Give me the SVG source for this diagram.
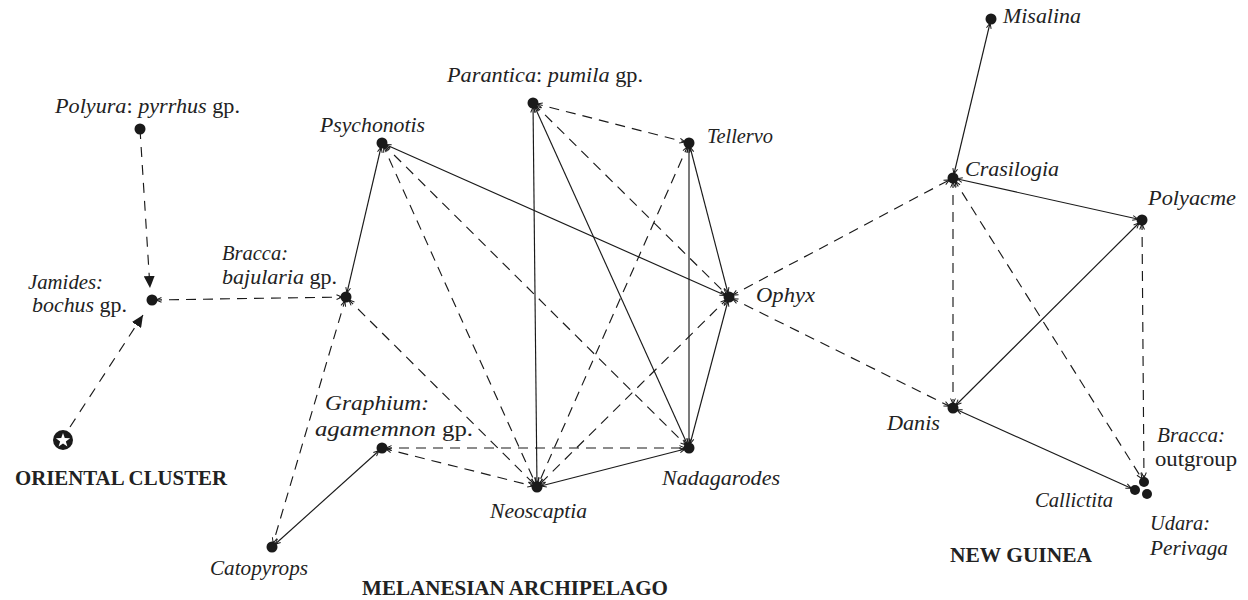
<svg xmlns="http://www.w3.org/2000/svg" width="1248" height="600" viewBox="0 0 1248 600">
  <style>
    .bg { fill: #ffffff; }
    .solid { stroke: #1a1a1a; stroke-width: 1.15; fill: none; marker-start: url(#chev); marker-end: url(#chev); }
    .dash { stroke: #1a1a1a; stroke-width: 1.15; fill: none; stroke-dasharray: 10 7; marker-start: url(#chev); marker-end: url(#chev); }
    .dash-arrow { stroke: #1a1a1a; stroke-width: 1.15; fill: none; stroke-dasharray: 10 8; marker-end: url(#tri); }
    .dot { fill: #1a1a1a; }
    .lbl { font-family: "Liberation Serif", "Times New Roman", serif; font-size: 20px; fill: #222222; }
    .i { font-style: italic; }
    .region { font-family: "Liberation Serif", "Times New Roman", serif; font-size: 21px; font-weight: bold; fill: #222222; }
  </style>
  <defs>
    <!-- small open chevron that points into a node dot -->
    <marker id="chev" viewBox="0 0 20 10" markerWidth="20" markerHeight="10" refX="18" refY="5" orient="auto-start-reverse" markerUnits="userSpaceOnUse">
      <path d="M8.5,2.6 L14,5 L8.5,7.4" fill="none" stroke="#1a1a1a" stroke-width="1"/>
    </marker>
    <!-- filled arrowhead for the Oriental links -->
    <marker id="tri" viewBox="0 0 12 11" markerWidth="12" markerHeight="11" refX="12" refY="5.5" orient="auto" markerUnits="userSpaceOnUse">
      <path d="M0,0 L12,5.5 L0,11 z" fill="#1a1a1a"/>
    </marker>
  </defs>

  <rect class="bg" x="0" y="0" width="1248" height="600"/>

  <g id="connectors">
    <!-- Oriental cluster -->
    <line class="dash-arrow" x1="140" y1="129" x2="150" y2="288"/>
    <line class="dash-arrow" x1="70" y1="427" x2="143" y2="315"/>
    <line class="dash" x1="152" y1="300" x2="346" y2="297"/>

    <!-- Melanesian archipelago -->
    <line class="solid" x1="346" y1="297" x2="382" y2="143"/>
    <line class="dash" x1="346" y1="297" x2="272" y2="547"/>
    <line class="dash" x1="346" y1="297" x2="537" y2="487"/>
    <line class="solid" x1="382" y1="448" x2="272" y2="547"/>
    <line class="dash" x1="382" y1="448" x2="537" y2="487"/>
    <line class="dash" x1="382" y1="448" x2="689" y2="448"/>
    <line class="solid" x1="382" y1="143" x2="729" y2="297"/>
    <line class="dash" x1="382" y1="143" x2="537" y2="487"/>
    <line class="dash" x1="382" y1="143" x2="689" y2="448"/>
    <line class="solid" x1="533" y1="103" x2="537" y2="487"/>
    <line class="solid" x1="533" y1="103" x2="689" y2="448"/>
    <line class="dash" x1="533" y1="103" x2="689" y2="143"/>
    <line class="dash" x1="533" y1="103" x2="729" y2="297"/>
    <line class="dash" x1="689" y1="143" x2="537" y2="487"/>
    <line class="solid" x1="689" y1="143" x2="689" y2="448"/>
    <line class="solid" x1="689" y1="143" x2="729" y2="297"/>
    <line class="dash" x1="729" y1="297" x2="537" y2="487"/>
    <line class="solid" x1="729" y1="297" x2="689" y2="448"/>
    <line class="solid" x1="537" y1="487" x2="689" y2="448"/>

    <!-- links to New Guinea -->
    <line class="dash" x1="729" y1="297" x2="953" y2="178"/>
    <line class="dash" x1="729" y1="297" x2="953" y2="408"/>

    <!-- New Guinea -->
    <line class="solid" x1="991" y1="19" x2="953" y2="178"/>
    <line class="solid" x1="953" y1="178" x2="1142" y2="220"/>
    <line class="dash" x1="953" y1="178" x2="953" y2="408"/>
    <line class="dash" x1="953" y1="178" x2="1144" y2="482"/>
    <line class="dash" x1="1142" y1="220" x2="1144" y2="482"/>
    <line class="solid" x1="1142" y1="220" x2="953" y2="408"/>
    <line class="solid" x1="953" y1="408" x2="1135" y2="490"/>
  </g>

  <g id="node-polyura">
    <circle class="dot" cx="140" cy="129" r="5.5"/>
    <text class="lbl" x="55" y="113" textLength="185" lengthAdjust="spacingAndGlyphs"><tspan class="i">Polyura</tspan>: <tspan class="i">pyrrhus</tspan> gp.</text>
  </g>
  <g id="node-jamides">
    <circle class="dot" cx="152" cy="300" r="5.5"/>
    <text class="lbl i" x="28" y="289" textLength="75" lengthAdjust="spacingAndGlyphs">Jamides:</text>
    <text class="lbl" x="32" y="312" textLength="95" lengthAdjust="spacingAndGlyphs"><tspan class="i">bochus</tspan> gp.</text>
  </g>
  <g id="node-oriental">
    <circle class="dot" cx="63" cy="440" r="10"/>
    <!-- white five-point star inside the origin marker -->
    <polygon fill="#ffffff" transform="translate(63,440.5) scale(1.15)" points="0,-6.5 1.53,-2.1 6.18,-2.01 2.47,0.8 3.82,5.26 0,2.6 -3.82,5.26 -2.47,0.8 -6.18,-2.01 -1.53,-2.1"/>
    <text class="region" x="15" y="485" textLength="212" lengthAdjust="spacingAndGlyphs">ORIENTAL CLUSTER</text>
  </g>
  <g id="node-bracca-bajularia">
    <circle class="dot" cx="346" cy="297" r="5.5"/>
    <text class="lbl i" x="222" y="260" textLength="66" lengthAdjust="spacingAndGlyphs">Bracca:</text>
    <text class="lbl" x="222" y="284" textLength="115" lengthAdjust="spacingAndGlyphs"><tspan class="i">bajularia</tspan> gp.</text>
  </g>
  <g id="node-psychonotis">
    <circle class="dot" cx="382" cy="143" r="5.5"/>
    <text class="lbl i" x="320" y="132" textLength="105" lengthAdjust="spacingAndGlyphs">Psychonotis</text>
  </g>
  <g id="node-parantica">
    <circle class="dot" cx="533" cy="103" r="5.5"/>
    <text class="lbl" x="447" y="82" textLength="196" lengthAdjust="spacingAndGlyphs"><tspan class="i">Parantica</tspan>: <tspan class="i">pumila</tspan> gp.</text>
  </g>
  <g id="node-tellervo">
    <circle class="dot" cx="689" cy="143" r="5.5"/>
    <text class="lbl i" x="707" y="143" textLength="66" lengthAdjust="spacingAndGlyphs">Tellervo</text>
  </g>
  <g id="node-ophyx">
    <circle class="dot" cx="729" cy="297" r="5.5"/>
    <text class="lbl i" x="756" y="302" textLength="59" lengthAdjust="spacingAndGlyphs">Ophyx</text>
  </g>
  <g id="node-graphium">
    <circle class="dot" cx="382" cy="448" r="5.5"/>
    <text class="lbl i" x="325" y="410" textLength="104" lengthAdjust="spacingAndGlyphs">Graphium:</text>
    <text class="lbl" x="315" y="436" textLength="158" lengthAdjust="spacingAndGlyphs"><tspan class="i">agamemnon</tspan> gp.</text>
  </g>
  <g id="node-catopyrops">
    <circle class="dot" cx="272" cy="547" r="5.5"/>
    <text class="lbl i" x="210" y="575" textLength="98" lengthAdjust="spacingAndGlyphs">Catopyrops</text>
  </g>
  <g id="node-neoscaptia">
    <circle class="dot" cx="537" cy="487" r="5.5"/>
    <text class="lbl i" x="490" y="518" textLength="97" lengthAdjust="spacingAndGlyphs">Neoscaptia</text>
  </g>
  <g id="node-nadagarodes">
    <circle class="dot" cx="689" cy="448" r="5.5"/>
    <text class="lbl i" x="662" y="485" textLength="118" lengthAdjust="spacingAndGlyphs">Nadagarodes</text>
  </g>
  <g id="label-melanesia">
    <text class="region" x="362" y="595" textLength="306" lengthAdjust="spacingAndGlyphs">MELANESIAN ARCHIPELAGO</text>
  </g>
  <g id="node-misalina">
    <circle class="dot" cx="991" cy="19" r="5.5"/>
    <text class="lbl i" x="1003" y="23" textLength="78" lengthAdjust="spacingAndGlyphs">Misalina</text>
  </g>
  <g id="node-crasilogia">
    <circle class="dot" cx="953" cy="178" r="5.5"/>
    <text class="lbl i" x="965" y="176" textLength="94" lengthAdjust="spacingAndGlyphs">Crasilogia</text>
  </g>
  <g id="node-polyacme">
    <circle class="dot" cx="1142" cy="220" r="5.5"/>
    <text class="lbl i" x="1148" y="205" textLength="88" lengthAdjust="spacingAndGlyphs">Polyacme</text>
  </g>
  <g id="node-danis">
    <circle class="dot" cx="953" cy="408" r="5.5"/>
    <text class="lbl i" x="887" y="430" textLength="53" lengthAdjust="spacingAndGlyphs">Danis</text>
  </g>
  <g id="node-callictita">
    <circle class="dot" cx="1135" cy="490" r="5"/>
    <text class="lbl i" x="1035" y="507" textLength="78" lengthAdjust="spacingAndGlyphs">Callictita</text>
  </g>
  <g id="node-bracca-outgroup">
    <circle class="dot" cx="1144" cy="482" r="5"/>
    <text class="lbl i" x="1157" y="442" textLength="68" lengthAdjust="spacingAndGlyphs">Bracca:</text>
    <text class="lbl" x="1155" y="466" textLength="82" lengthAdjust="spacingAndGlyphs">outgroup</text>
  </g>
  <g id="node-udara">
    <circle class="dot" cx="1147" cy="494" r="5"/>
    <text class="lbl i" x="1150" y="530" textLength="60" lengthAdjust="spacingAndGlyphs">Udara:</text>
    <text class="lbl i" x="1150" y="555" textLength="78" lengthAdjust="spacingAndGlyphs">Perivaga</text>
  </g>
  <g id="label-new-guinea">
    <text class="region" x="950" y="562" textLength="142" lengthAdjust="spacingAndGlyphs">NEW GUINEA</text>
  </g>
</svg>
